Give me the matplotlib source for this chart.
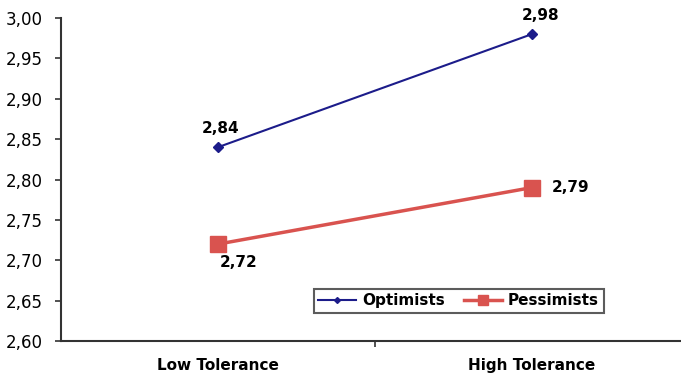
import matplotlib
matplotlib.use("Agg")
import matplotlib.pyplot as plt

categories = ["Low Tolerance", "High Tolerance"]
optimists = [2.84, 2.98]
pessimists = [2.72, 2.79]
yticks = [2.60, 2.65, 2.70, 2.75, 2.80, 2.85, 2.90, 2.95, 3.00]

plt.rcParams['font.family'] = ['DejaVu Sans']

fig = plt.figure(figsize=(6.81, 3.78), dpi=100)
ax = fig.add_axes([61/681, 37/378, 1 - 61/681, (341-18)/378])

x = [0, 1]
ax.plot(x, optimists, color='#1c1c8a', lw=1.5, marker='D', ms=5, label='Optimists')
ax.plot(x, pessimists, color='#d9534f', lw=2.5, marker='s', ms=11, label='Pessimists')

# value labels
ax.annotate('2,84', (0, optimists[0]), xytext=(2, 8), textcoords='offset points',
            ha='center', va='bottom', fontsize=11, fontweight='bold')
ax.annotate('2,98', (1, optimists[1]), xytext=(6, 8), textcoords='offset points',
            ha='center', va='bottom', fontsize=11, fontweight='bold')
ax.annotate('2,72', (0, pessimists[0]), xytext=(15, -8), textcoords='offset points',
            ha='center', va='top', fontsize=11, fontweight='bold')
ax.annotate('2,79', (1, pessimists[1]), xytext=(14, 0), textcoords='offset points',
            ha='left', va='center', fontsize=11, fontweight='bold')

ax.set_xlim(-0.5, 1.475)
ax.set_ylim(2.60, 3.00)
ax.set_yticks(yticks)
ax.set_yticklabels([f"{v:.2f}".replace('.', ',') for v in yticks], fontsize=12)
ax.set_xticks(x)
ax.set_xticklabels(categories, fontsize=11, fontweight='bold')
ax.set_xticks([0.5], minor=True)
ax.tick_params(axis='x', which='major', length=0, pad=12)
ax.tick_params(axis='x', which='minor', length=4, width=1.2, color='#333333')
ax.tick_params(axis='y', length=4, direction='out', width=1.2, color='#333333', pad=9)

for s in ['top', 'right']:
    ax.spines[s].set_visible(False)
ax.spines['left'].set_linewidth(1.5)
ax.spines['bottom'].set_linewidth(1.5)
ax.spines['left'].set_color('#333333')
ax.spines['bottom'].set_color('#333333')

leg = ax.legend(loc='lower left', bbox_to_anchor=((306-61)/620, 0.063), ncol=2,
                fontsize=11, frameon=True, fancybox=False, edgecolor='#333333',
                handlelength=2.5, columnspacing=1.2, borderpad=0.3, markerscale=0.6,
                handletextpad=0.4)
leg.get_frame().set_linewidth(1.5)
for t in leg.get_texts():
    t.set_fontweight('bold')

fig.savefig('out.png', dpi=100)
